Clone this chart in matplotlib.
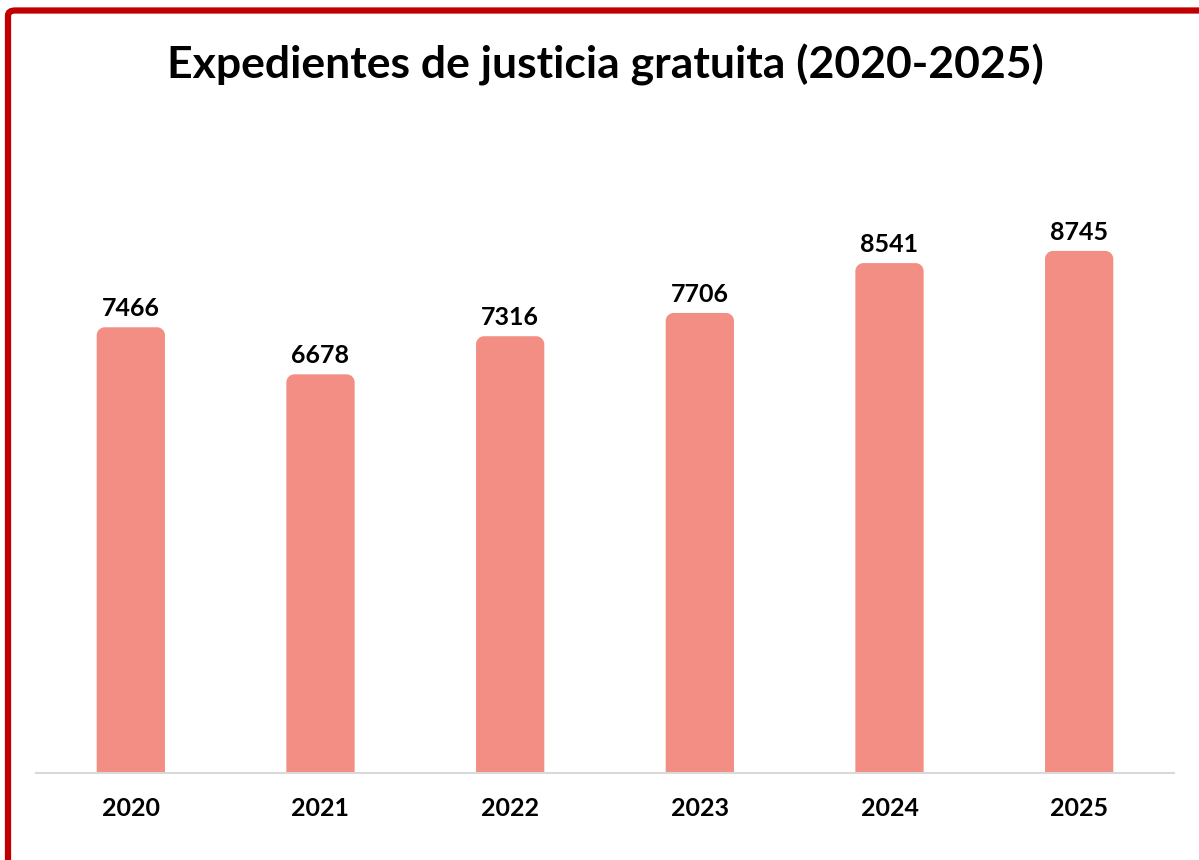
import numpy as np
import matplotlib.pyplot as plt
from matplotlib.patches import FancyBboxPatch, PathPatch
from matplotlib.path import Path

years = ['2020', '2021', '2022', '2023', '2024', '2025']
expedientes = [7466, 6678, 7316, 7706, 8541, 8745]

bar_color = '#F28E83'
plt.rcParams['font.family'] = ['Lato', 'DejaVu Sans']

fig = plt.figure(figsize=(11.99, 8.6), dpi=100)
W, H = 1199, 860
ax = fig.add_axes([36 / W, 87 / H, (1174 - 36) / W, 597 / H])

x = np.arange(len(years))
bars = ax.bar(x, expedientes, width=0.36, color=bar_color)
ax.set_xlim(-0.5, len(years) - 0.5)
ax.set_ylim(0, 10000)

# round the top corners of each bar (radius in pixels)
r_px = 8
px_x = (1174 - 36) / len(years)
px_y = 597 / 10000
for b in bars:
    x0, w, h = b.get_x(), b.get_width(), b.get_height()
    rx, ry = r_px / px_x, r_px / px_y
    k = 0.5523
    verts = [(x0, 0), (x0, h - ry),
             (x0, h - ry + k * ry), (x0 + rx - k * rx, h), (x0 + rx, h),
             (x0 + w - rx, h),
             (x0 + w - rx + k * rx, h), (x0 + w, h - ry + k * ry), (x0 + w, h - ry),
             (x0 + w, 0), (x0, 0)]
    codes = [Path.MOVETO, Path.LINETO,
             Path.CURVE4, Path.CURVE4, Path.CURVE4,
             Path.LINETO,
             Path.CURVE4, Path.CURVE4, Path.CURVE4,
             Path.LINETO, Path.CLOSEPOLY]
    ax.add_patch(PathPatch(Path(verts, codes), facecolor=bar_color, edgecolor='none'))
    b.set_visible(False)

for xi, v in zip(x, expedientes):
    ax.annotate(str(v), (xi, v), xytext=(0, 5), textcoords='offset points',
                ha='center', va='bottom', fontsize=18, fontweight='bold')

ax.set_xticks(x)
ax.set_xticklabels(years, fontsize=18, fontweight='bold')
ax.tick_params(axis='x', length=0, pad=17)
ax.set_yticks([])
for s in ['top', 'right', 'left']:
    ax.spines[s].set_visible(False)
ax.spines['bottom'].set_color('#D9D9D9')
ax.spines['bottom'].set_linewidth(1.5)

fig.text(605 / W, 1 - 65 / H, 'Expedientes de justicia gratuita (2020-2025)',
         ha='center', va='center', fontsize=32, fontweight='bold')

# red frame
frame = FancyBboxPatch((8 / W, -0.1), 1.2, 1 - 10.5 / H + 0.1,
                       boxstyle='round,pad=0,rounding_size=0.006',
                       transform=fig.transFigure, facecolor='none',
                       edgecolor='#C00000', linewidth=4.5, clip_on=False)
fig.patches.append(frame)

fig.savefig('out.png', dpi=100)
